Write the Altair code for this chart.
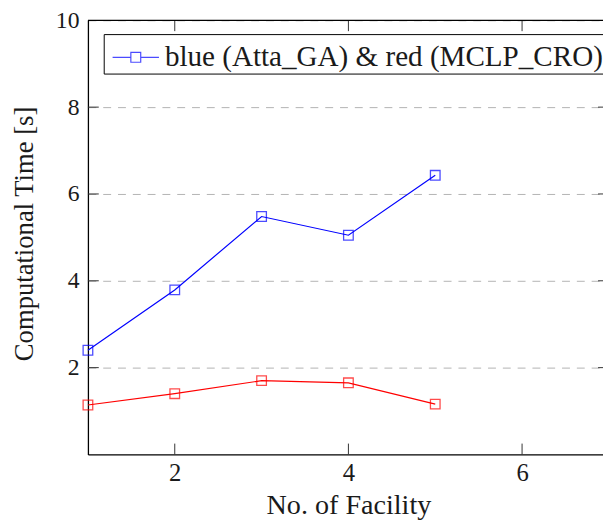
import altair as alt
import pandas as pd

facilities = [1, 2, 3, 4, 5]
atta_ga = [2.40, 3.79, 5.48, 5.05, 6.43]
mclp_cro = [1.14, 1.40, 1.70, 1.65, 1.16]
series_names = ["blue", "red"]
series_colors = ["#0000ff", "#ff0000"]
x_tick_values = [2, 4, 6]
y_tick_values = [2, 4, 6, 8, 10]
y_inner_ticks = [2, 4, 6, 8]
legend_text = "blue (Atta_GA) & red (MCLP_CRO)"
x_title = "No. of Facility"
y_title = "Computational Time [s]"

W, H = 522, 440
FONT = "Liberation Serif, serif"
TXT = "#1a1a1a"

df = pd.DataFrame({
    "x": facilities + facilities,
    "y": atta_ga + mclp_cro,
    "series": [series_names[0]] * len(facilities) + [series_names[1]] * len(facilities),
})
xt = pd.DataFrame({"x": x_tick_values})
yt = pd.DataFrame({"y": y_inner_ticks})
one = pd.DataFrame({"x": [1]})

xscale = alt.Scale(domain=[1, 6.932], nice=False, zero=False)
yscale = alt.Scale(domain=[0, 10], nice=False, zero=False)

x_enc = alt.X(
    "x:Q", scale=xscale, title=x_title,
    axis=alt.Axis(
        values=x_tick_values, format="d", ticks=False, grid=False,
        domainColor="black", domainWidth=1.3,
        labelFont=FONT, labelFontSize=25, labelColor=TXT,
        labelPadding=26, labelBaseline="alphabetic",
        titleFont=FONT, titleFontSize=28.5, titleFontWeight="normal", titleColor=TXT,
        titleX=264, titleY=60, titleBaseline="alphabetic",
    ),
)
y_enc = alt.Y(
    "y:Q", scale=yscale, title=y_title,
    axis=alt.Axis(
        values=y_tick_values, format="d", ticks=False, grid=True,
        gridColor="#b3b3b3", gridDash=[8, 7], gridWidth=1,
        domainColor="black", domainWidth=1.3,
        labelFont=FONT, labelFontSize=24, labelColor=TXT,
        labelPadding=9, labelBaseline="middle",
        titleFont=FONT, titleFontSize=27, titleFontWeight="normal", titleColor=TXT,
        titleX=-64, titleY=216, titleAngle=-90, titleBaseline="middle",
    ),
)

legend_symbol = "M-0.707,0H0.195M0.683,0H1.585M0.195,-0.244H0.683V0.244H0.195Z"
color_enc = alt.Color(
    "series:N",
    scale=alt.Scale(domain=series_names, range=series_colors),
    legend=alt.Legend(
        values=[series_names[0]],
        labelExpr="'" + legend_text + "\u00a0\u00a0\u00a0'",
        title=None, orient="none", legendX=16, legendY=14,
        symbolType=legend_symbol, symbolSize=1681, symbolStrokeWidth=1.2,
        symbolFillColor="transparent",
        strokeColor="black", fillColor="white", padding=2, cornerRadius=0,
        labelOffset=17, labelLimit=1000,
        labelFont=FONT, labelFontSize=29.5, labelColor=TXT,
    ),
)

base = alt.Chart(df)
lines = base.mark_line(strokeWidth=1.2).encode(x=x_enc, y=y_enc, color=color_enc)
points = base.mark_point(shape="square", filled=False, size=95, strokeWidth=1.3).encode(
    x="x:Q", y="y:Q", color=alt.Color("series:N")
)

top_line = alt.Chart(one).mark_rule(color="black", strokeWidth=1.3).encode(
    x=alt.value(0), x2=alt.value(W), y=alt.value(0)
)
bottom_ticks = alt.Chart(xt).mark_rule(color="#333333", strokeWidth=1).encode(
    x=alt.X("x:Q"), y=alt.value(H), y2=alt.value(H - 11)
)
top_ticks = alt.Chart(xt).mark_rule(color="#333333", strokeWidth=1).encode(
    x=alt.X("x:Q"), y=alt.value(0), y2=alt.value(11)
)
left_ticks = alt.Chart(yt).mark_rule(color="#333333", strokeWidth=1).encode(
    y=alt.Y("y:Q"), x=alt.value(0), x2=alt.value(11)
)
right_ticks = alt.Chart(yt).mark_rule(color="#333333", strokeWidth=1).encode(
    y=alt.Y("y:Q"), x=alt.value(W - 5), x2=alt.value(W)
)

chart = (
    alt.layer(lines, bottom_ticks, top_ticks, left_ticks, right_ticks, top_line, points)
    .properties(
        width=W, height=H,
        autosize=alt.AutoSizeParams(type="none"),
        padding={"left": 81, "top": 9, "right": 0, "bottom": 66},
        background="white",
    )
    .configure_view(stroke=None)
)

chart.save("out.html", embed_options={"renderer": "svg", "actions": False})
